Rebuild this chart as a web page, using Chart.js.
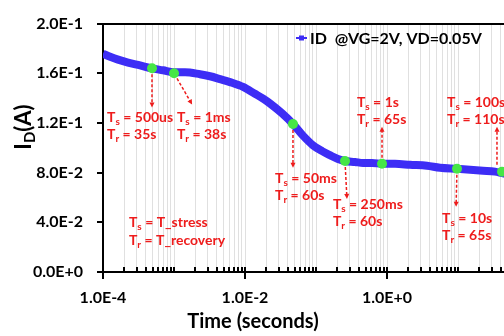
<!DOCTYPE html>
<html>
<head>
<meta charset="utf-8">
<script src="https://cdn.jsdelivr.net/npm/chart.js@4.4.1/dist/chart.umd.min.js"></script>
<style>
html,body{margin:0;padding:0;background:#fff;overflow:hidden;}
#wrap{width:504px;height:336px;overflow:hidden;}
canvas{display:block;}
</style>
</head>
<body>
<div id="wrap"><canvas id="chart" width="560" height="336"></canvas></div>
<script>
// drain current, time in seconds
const times = [1.0e-4, 1.26e-4, 1.63e-4, 2.25e-4, 3.32e-4, 4.9e-4, 7.0e-4, 1.0e-3, 1.43e-3, 2.32e-3,
  3.21e-3, 4.45e-3, 6.15e-3, 9.4e-3, 1.38e-2, 1.8e-2, 2.25e-2, 3.32e-2, 4.74e-2, 6.56e-2,
  9.08e-2, 0.122, 0.157, 0.204, 0.256, 0.354, 0.459, 0.615, 0.851, 1.30,
  2.11, 3.66, 5.57, 9.68, 14.8, 22.5, 33.2, 44.5, 74.6, 100]
const current = [0.1757, 0.1733, 0.1710, 0.1686, 0.1663, 0.1639, 0.1624, 0.1608, 0.1608, 0.1592,
  0.1576, 0.1553, 0.1529, 0.1490, 0.1435, 0.1396, 0.1357, 0.1278, 0.1192, 0.1098,
  0.1020, 0.0973, 0.0941, 0.0910, 0.0894, 0.0886, 0.0878, 0.0878, 0.0871, 0.0871,
  0.0863, 0.0855, 0.0839, 0.0831, 0.0824, 0.0816, 0.0808, 0.0792, 0.0776, 0.0769]

// green marks on the curve
const markTimes = [4.9e-4, 1.0e-3, 4.74e-2, 0.256, 0.851, 9.68, 41.7]
const markCurrent = [0.164, 0.160, 0.1192, 0.0894, 0.0871, 0.0831, 0.0808]
const stressLabels = ['500us', '1ms', '50ms', '250ms', '1s', '10s', '100s']
const recoveryLabels = ['35s', '38s', '60s', '60s', '65s', '65s', '110s']

const seriesName = 'ID  @VG=2V, VD=0.05V'
const yTicks = [0, 0.04, 0.08, 0.12, 0.16, 0.2]
const xDecades = [-4, -3, -2, -1, 0, 1, 2]
const xLabelled = [-4, -2, 0]

// where the notes sit (data coords)
const notePos = [
  {t: 1.14e-4, v: 0.1247, toV: 0.1325},
  {t: 1.1e-3, v: 0.1247, toT: 1.8e-3, toV: 0.1349},
  {t: 2.65e-2, v: 0.0753, toV: 0.0839},
  {t: 0.173, v: 0.0541, toT: 0.273, toV: 0.0588},
  {t: 0.377, v: 0.1365, toV: 0.1169},
  {t: 5.96, v: 0.0431, toT: 9.4, toV: 0.0525},
  {t: 7.0, v: 0.1365, fromT: 35.4, fromV: 0.0816, toT: 35.4, toV: 0.1169}
]

const BLUE = '#3d2df5'
const RED = '#ee1c1c'
const FONT = 'Lato, "Open Sans", sans-serif'

let xTickValues = []
xDecades.forEach(e => {
  for (let m = 1; m <= 9; m++) {
    if (e === xDecades[xDecades.length - 1] && m > 1) break
    xTickValues.push(m * Math.pow(10, e))
  }
})

function isLabelled(v){
  let e = Math.log10(v)
  return xLabelled.some(k => Math.abs(k - e) < 1e-6)
}

function subLine(ctx, x, y, main, sub, rest, size){
  ctx.font = 'bold ' + size + 'px ' + FONT
  ctx.fillText(main, x, y)
  let w = ctx.measureText(main).width
  ctx.font = 'bold ' + Math.round(size * 0.7) + 'px ' + FONT
  ctx.fillText(sub, x + w, y + size * 0.3)
  w += ctx.measureText(sub).width
  ctx.font = 'bold ' + size + 'px ' + FONT
  ctx.fillText(rest, x + w, y)
}

function arrow(ctx, x1, y1, x2, y2){
  let a = Math.atan2(y2 - y1, x2 - x1)
  let c = Math.cos(a), s = Math.sin(a)
  ctx.setLineDash([3, 2])
  ctx.beginPath()
  ctx.moveTo(x1 + c * 6, y1 + s * 6)
  ctx.lineTo(x2 - c * 4, y2 - s * 4)
  ctx.stroke()
  ctx.setLineDash([])
  ctx.beginPath()
  ctx.moveTo(x2, y2)
  ctx.lineTo(x2 - c * 5 - s * 2.5, y2 - s * 5 + c * 2.5)
  ctx.lineTo(x2 - c * 5 + s * 2.5, y2 - s * 5 - c * 2.5)
  ctx.closePath()
  ctx.fill()
}

const extras = {
  id: 'extras',
  afterDraw(chart){
    const ctx = chart.ctx
    const xs = chart.scales.x, ys = chart.scales.y
    const bottom = chart.chartArea.bottom
    ctx.save()

    // x tick marks: inside for all, crossing for labelled
    ctx.strokeStyle = '#000'
    ctx.lineWidth = 2
    xs.ticks.forEach(t => {
      let px = Math.round(xs.getPixelForValue(t.value))
      ctx.beginPath()
      ctx.moveTo(px, bottom - 5)
      ctx.lineTo(px, isLabelled(t.value) ? bottom + 7 : bottom)
      ctx.stroke()
    })

    // notes and arrows
    ctx.fillStyle = RED
    ctx.strokeStyle = RED
    ctx.lineWidth = 1.5
    ctx.textAlign = 'left'
    ctx.textBaseline = 'middle'
    notePos.forEach((n, i) => {
      let x = xs.getPixelForValue(n.t), y = ys.getPixelForValue(n.v)
      subLine(ctx, x, y, 'T', 's', ' = ' + stressLabels[i], 14)
      subLine(ctx, x, y + 17, 'T', 'r', ' = ' + recoveryLabels[i], 14)
      let fx = xs.getPixelForValue(n.fromT || markTimes[i])
      let fy = ys.getPixelForValue(n.fromV || markCurrent[i])
      let tx = xs.getPixelForValue(n.toT || n.fromT || markTimes[i])
      let ty = ys.getPixelForValue(n.toV)
      arrow(ctx, fx, fy, tx, ty)
    })
    let dx = xs.getPixelForValue(2.32e-4), dy = ys.getPixelForValue(0.04)
    subLine(ctx, dx, dy, 'T', 's', ' = T_stress', 14)
    subLine(ctx, dx, dy + 18, 'T', 'r', ' = T_recovery', 14)

    // legend
    ctx.strokeStyle = BLUE
    ctx.fillStyle = BLUE
    ctx.lineWidth = 2
    ctx.beginPath()
    ctx.moveTo(296, 38)
    ctx.lineTo(307, 38)
    ctx.stroke()
    ctx.fillRect(299, 35.5, 5, 5)
    ctx.fillStyle = '#000'
    ctx.font = 'bold 16px ' + FONT
    ctx.fillText(seriesName, 310, 39)

    // axis titles
    ctx.textAlign = 'center'
    ctx.font = 'bold 20px ' + FONT
    ctx.fillText('Time (seconds)', 253, 322)

    ctx.translate(24, 127)
    ctx.rotate(-Math.PI / 2)
    ctx.font = 'bold 22px ' + FONT
    let w1 = ctx.measureText('I').width, w3 = ctx.measureText('(A)').width
    ctx.font = 'bold 15px ' + FONT
    let w2 = ctx.measureText('D').width
    let x0 = -(w1 + w2 + w3) / 2
    ctx.textAlign = 'left'
    ctx.font = 'bold 22px ' + FONT
    ctx.fillText('I', x0, 0)
    ctx.font = 'bold 15px ' + FONT
    ctx.fillText('D', x0 + w1, 6)
    ctx.font = 'bold 22px ' + FONT
    ctx.fillText('(A)', x0 + w1 + w2, 0)

    ctx.restore()
  }
}

const ctx = document.getElementById('chart').getContext('2d')

new Chart(ctx, {
  type: 'line',
  data: {
    datasets: [
      {
        label: 'marks',
        data: markTimes.map((t, i) => ({x: t, y: markCurrent[i]})),
        showLine: false,
        pointRadius: 5,
        pointBackgroundColor: '#46e646',
        pointBorderWidth: 0,
        order: 0
      },
      {
        label: seriesName,
        data: times.map((t, i) => ({x: t, y: current[i]})),
        borderColor: BLUE,
        borderWidth: 8,
        pointRadius: 0,
        cubicInterpolationMode: 'monotone',
        order: 1
      }
    ]
  },
  options: {
    responsive: false,
    animation: false,
    devicePixelRatio: 1,
    layout: {padding: {top: 17, right: 31, left: 0, bottom: 0}},
    plugins: {legend: {display: false}, tooltip: {enabled: false}},
    scales: {
      x: {
        type: 'logarithmic',
        min: 1e-4,
        max: 1e2,
        afterBuildTicks: s => { s.ticks = xTickValues.map(v => ({value: v})) },
        afterFit: s => { s.height = 64 },
        border: {color: '#000', width: 2},
        grid: {color: '#e0e0e0', lineWidth: 1, drawTicks: false},
        ticks: {
          autoSkip: false,
          maxRotation: 0,
          padding: 16,
          color: '#000',
          font: {family: FONT, size: 16, weight: 'bold'},
          callback: v => isLabelled(v) ? Number(v).toExponential(1).toUpperCase() : ''
        }
      },
      y: {
        min: 0,
        max: 0.2,
        afterBuildTicks: s => { s.ticks = yTicks.map(v => ({value: v})) },
        afterFit: s => { s.width = 103 },
        border: {color: '#000', width: 2},
        grid: {
          color: c => (c.tick && c.tick.value >= 0.199) ? '#000' : 'rgba(0,0,0,0)',
          lineWidth: 2,
          tickColor: '#000',
          tickWidth: 2,
          tickLength: 6
        },
        ticks: {
          padding: 14,
          color: '#000',
          font: {family: FONT, size: 16, weight: 'bold'},
          callback: v => Number(v).toExponential(1).toUpperCase()
        }
      }
    }
  },
  plugins: [extras]
})
</script>
</body>
</html>
